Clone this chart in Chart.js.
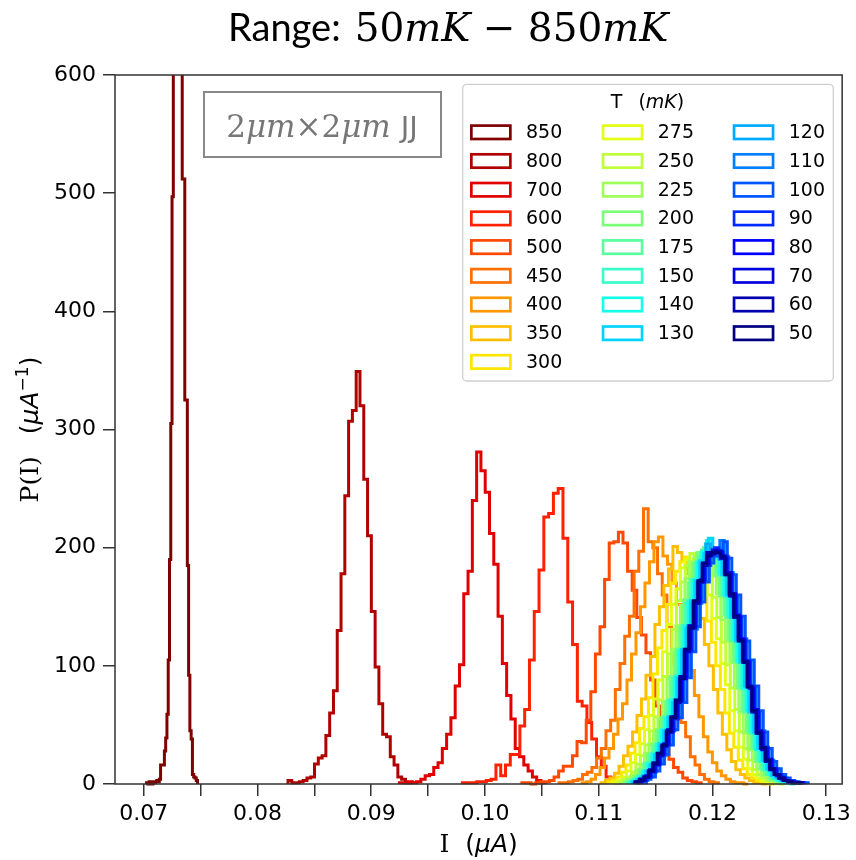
<!DOCTYPE html>
<html><head><meta charset="utf-8">
<script src="https://cdn.jsdelivr.net/npm/chart.js@4.4.1/dist/chart.umd.min.js"></script>
<style>html,body{margin:0;padding:0;background:#fff}canvas{display:block}</style>
</head><body>
<canvas id="c" width="856" height="860"></canvas>
<script>
// ---------- data ----------
const temps = [850,800,700,600,500,450,400,350,300,275,250,225,200,175,150,140,130,120,110,100,90,80,70,60,50];
const colors = ['#800000','#b00000','#e00000','#ff2100','#ff4800','#ff7000','#ff9700','#ffbe00','#ffe600',
  '#e2ff15','#c0ff37','#9eff59','#7bff7b','#59ff9e','#37ffc8','#15ffea','#00d4ff','#00aaff','#0080ff',
  '#0055ff','#002aff','#0000ff','#0000e0','#0000b0','#000080'];
// first bin edge (µA) and bin width (µA) for each temperature
const binStart = [0.070254,0.082687,0.092482,0.098018,0.103246,0.106518,0.108535,0.110202,0.110816,0.111254,
  0.111693,0.112044,0.112307,0.112482,0.112658,0.112746,0.112921,0.113096,0.113535,0.113798,0.113447,0.113360,
  0.113272,0.113184,0.113184];
const binWidth = [0.000112,0.000333,0.000377,0.000421,0.000404,0.000412,0.000395,0.000395,0.000395,0.000395,
  0.000395,0.000395,0.000395,0.000395,0.000395,0.000395,0.000395,0.000395,0.000395,0.000395,0.000395,0.000395,
  0.000395,0.000395,0.000395];
const counts850 = [1,0,2,1,0,2,1,2,3,2,4,16,16,16,28,39,59,105,190,305,497,720,900,1050,1100,1000,850,700,512,512,325,325,185,92,45,38,8,6,5,3];
const counts800 = [3,1,1,2,3,5,6,17,22,24,41,60,79,130,178,244,307,316,349,320,258,210,146,99,68,42,40,23,16,6,4,1,1];
const counts700 = [1,1,2,1,2,4,7,8,14,18,30,42,56,83,101,161,180,240,281,265,247,212,186,142,102,75,55,30,23,16,11,6,3,1];
const counts600 = [1,1,1,2,2,3,4,16,7,16,25,25,49,63,105,146,181,226,229,246,250,208,154,118,70,66,52,38,23,15,6,2,1];
const counts500 = [1,1,0,1,2,2,3,6,11,15,15,24,36,35,54,78,110,133,173,204,205,213,204,180,164,141,126,111,88,66,45,30,21,14,10,5,3,2,1];
const counts450 = [1,1,2,3,4,8,10,14,22,30,45,54,80,102,125,142,180,197,233,205,200,178,160,133,102,80,52,40,23,16,8,4,2,1];
const counts400 = [1,2,4,8,14,22,30,42,55,68,88,110,128,150,170,188,205,209,193,186,170,152,135,114,96,75,57,40,27,18,11,7,4,2,1,1,0];
const counts350 = [1,3,5,9,15,24,32,44,58,72,92,108,135,150,168,182,201,196,190,178,172,155,140,118,100,80,60,42,29,19,12,8,5,3,1,1,0];
const counts300 = [2,3,6,10,16,26,35,47,57,73,93,115,130,152,170,180,188,192,186,190,175,158,138,120,100,80,60,43,31,20,13,8,5,3,2,1,0];
const counts275 = [1,3,6,11,18,25,34,46,58,72,88,112,135,152,165,183,190,186,189,182,174,160,140,123,102,84,62,45,31,21,13,8,5,3,2,1,1];
const counts250 = [2,4,6,10,17,24,33,45,57,71,91,110,131,155,171,185,195,190,194,187,176,158,141,120,101,81,63,44,30,20,12,8,5,3,2,1,0];
const counts225 = [1,4,7,11,16,26,34,44,55,70,89,114,134,151,174,188,192,196,191,189,177,161,139,121,103,83,61,43,29,21,13,7,5,3,2,1,1];
const counts200 = [2,3,6,12,17,24,33,46,56,69,91,112,132,156,170,186,196,198,193,190,176,159,143,123,103,81,62,45,30,19,13,8,4,3,2,1,1];
const counts175 = [1,4,6,11,18,25,32,45,57,71,90,114,134,153,173,187,193,200,196,191,179,160,141,121,105,83,61,44,31,20,12,8,5,3,1,1,1];
const counts150 = [2,4,7,10,17,26,34,44,56,70,89,112,133,155,171,188,196,203,195,193,177,161,143,122,103,82,63,43,30,21,13,8,5,3,2,1,0];
const counts140 = [1,3,6,11,17,25,33,46,55,71,91,113,134,153,173,187,197,206,199,191,179,159,142,123,104,81,62,45,29,19,12,8,5,3,2,1,1];
const counts130 = [2,4,6,11,16,25,34,45,57,69,90,114,132,155,172,189,195,208,196,192,177,160,141,121,103,83,61,44,30,20,13,7,5,3,2,1,1];
const counts120 = [1,4,7,10,17,26,32,44,56,71,89,112,134,154,171,186,203,197,198,190,178,161,143,122,104,82,63,43,31,20,12,8,5,3,2,1,1];
const counts110 = [2,3,6,11,18,24,34,45,57,70,92,113,131,153,172,185,196,199,206,192,179,159,141,123,103,82,61,45,30,20,13,8,5,3,2,1,1];
const counts100 = [1,4,6,11,17,25,33,46,56,69,90,112,133,154,171,187,193,198,205,191,177,160,142,121,105,83,62,44,30,19,13,8,5,3,2,1,1];
const counts90  = [2,4,6,10,17,26,33,45,55,71,91,113,134,155,173,185,194,200,196,193,178,159,141,122,103,82,61,44,31,20,12,8,4,3,2,1,1];
const counts80  = [1,3,7,11,16,25,34,44,57,70,89,114,132,153,171,187,195,197,197,191,179,161,142,121,104,81,63,43,30,21,13,7,5,3,2,1,1];
const counts70  = [2,4,6,12,17,24,33,46,56,70,90,112,133,154,172,186,194,198,196,192,177,160,143,123,103,82,62,45,29,20,13,8,5,3,2,1,1];
const counts60  = [1,4,6,11,18,25,32,45,57,69,91,113,134,153,171,185,196,195,197,191,178,159,141,122,104,83,61,44,30,19,12,8,5,3,2,1,1];
const counts50  = [2,3,6,11,17,26,33,44,56,71,89,114,132,155,172,187,193,196,196,193,177,161,142,121,103,82,62,43,31,20,13,8,5,3,2,1,1];
const allCounts = [counts850,counts800,counts700,counts600,counts500,counts450,counts400,counts350,counts300,counts275,
  counts250,counts225,counts200,counts175,counts150,counts140,counts130,counts120,counts110,counts100,counts90,
  counts80,counts70,counts60,counts50];

const xTickValues = [0.07,0.075,0.08,0.085,0.09,0.095,0.10,0.105,0.11,0.115,0.12,0.125,0.13];
const xTickLabels = ['0.07','','0.08','','0.09','','0.10','','0.11','','0.12','','0.13'];
const yTickValues = [0,100,200,300,400,500,600];
const yTickLabels = ['0','100','200','300','400','500','600'];
const xMin = 0.06748, xMax = 0.13140, yMin = 0, yMax = 600;

// ---------- build step-histogram datasets ----------
function histPoints(start, width, counts) {
  const pts = [{x: start, y: 0}];
  counts.forEach((c, i) => pts.push({x: start + i * width, y: c}));
  pts.push({x: start + counts.length * width, y: 0});
  return pts;
}
const datasets = temps.map((t, i) => ({
  label: String(t),
  data: histPoints(binStart[i], binWidth[i], allCounts[i]),
  borderColor: colors[i],
  backgroundColor: 'transparent',
  fill: false,
  stepped: 'before',
  borderWidth: 3,
  pointRadius: 0,
  order: -i,
  clip: {left: 2, right: 2, top: 0, bottom: 2}
}));

// ---------- text helpers ----------
function drawRuns(ctx, runs, x, y, align) {
  let w = 0;
  runs.forEach(r => { if (r.gap !== undefined) { r.w = r.gap; } else { ctx.font = r.f; r.w = ctx.measureText(r.t).width; } w += r.w; });
  let cx = align === 'center' ? x - w / 2 : x;
  runs.forEach(r => {
    if (r.gap === undefined) {
      ctx.font = r.f; ctx.fillStyle = r.c || '#000';
      ctx.fillText(r.t, cx, y + (r.dy || 0));
    }
    cx += r.w;
  });
  return w;
}

const framePlugin = {
  id: 'frame',
  afterDatasetsDraw(chart) {
    const {ctx, chartArea: a} = chart;
    ctx.save();
    ctx.strokeStyle = '#333'; ctx.lineWidth = 1.5;
    ctx.strokeRect(a.left, a.top, a.right - a.left, a.bottom - a.top);
    ctx.restore();
  }
};

const textPlugin = {
  id: 'texts',
  afterDraw(chart) {
    const {ctx, chartArea: a} = chart;
    ctx.save();
    ctx.textBaseline = 'alphabetic';
    // title
    drawRuns(ctx, [
      {t: 'Range:', f: '38px Lato'}, {gap: 14},
      {t: '50', f: '39px "DejaVu Serif"'}, {t: 'mK', f: 'italic 39px "DejaVu Serif"'},
      {t: ' − ', f: '39px "DejaVu Serif"'},
      {t: '850', f: '39px "DejaVu Serif"'}, {t: 'mK', f: 'italic 39px "DejaVu Serif"'}
    ], 228, 41, 'left');
    // x label
    drawRuns(ctx, [
      {t: 'I', f: '25px "DejaVu Serif"'}, {gap: 16},
      {t: '(', f: '25px "DejaVu Sans"'}, {t: 'μA', f: 'italic 25px "DejaVu Sans"'}, {t: ')', f: '25px "DejaVu Sans"'}
    ], (a.left + a.right) / 2, 852, 'center');
    // y label (rotated)
    ctx.save();
    ctx.translate(38, (a.top + a.bottom) / 2);
    ctx.rotate(-Math.PI / 2);
    drawRuns(ctx, [
      {t: 'P(I)', f: '25px "DejaVu Serif"'}, {gap: 22},
      {t: '(', f: '25px "DejaVu Sans"'}, {t: 'μA', f: 'italic 25px "DejaVu Sans"'},
      {t: '−1', f: '17px "DejaVu Sans"', dy: -10}, {t: ')', f: '25px "DejaVu Sans"'}
    ], 0, 0, 'center');
    ctx.restore();
    // annotation box
    ctx.strokeStyle = '#888'; ctx.lineWidth = 2;
    ctx.strokeRect(204, 92, 237, 65);
    drawRuns(ctx, [
      {t: '2', f: '31px "DejaVu Serif"', c: '#777'}, {t: 'μm', f: 'italic 31px "DejaVu Serif"', c: '#777'},
      {t: '×', f: '31px "DejaVu Serif"', c: '#777'},
      {t: '2', f: '31px "DejaVu Serif"', c: '#777'}, {t: 'μm', f: 'italic 31px "DejaVu Serif"', c: '#777'},
      {gap: 10}, {t: 'JJ', f: '29px "DejaVu Sans"', c: '#777'}
    ], 322, 137, 'center');
    // legend
    const lx = 462.7, ly = 84.3, lw = 370.6, lh = 296.7;
    ctx.beginPath();
    ctx.roundRect(lx, ly, lw, lh, 4);
    ctx.fillStyle = 'rgba(255,255,255,0.85)'; ctx.fill();
    ctx.strokeStyle = '#d0d0d0'; ctx.lineWidth = 1.3; ctx.stroke();
    ctx.textBaseline = 'middle';
    drawRuns(ctx, [
      {t: 'T', f: '19px "DejaVu Sans"'}, {gap: 16},
      {t: '(', f: '19px "DejaVu Sans"'}, {t: 'mK', f: 'italic 19px "DejaVu Sans"'}, {t: ')', f: '19px "DejaVu Sans"'}
    ], 647.5, 103, 'center');
    const colX = [470, 601.7, 732.7];
    const rowY0 = 132.3, rowDy = 28.7;
    chart.data.datasets.forEach((ds, i) => {
      const col = i < 9 ? 0 : (i < 17 ? 1 : 2);
      const row = i < 9 ? i : (i < 17 ? i - 9 : i - 17);
      const sx = colX[col], sy = rowY0 + row * rowDy;
      ctx.strokeStyle = ds.borderColor; ctx.lineWidth = 2.7;
      ctx.strokeRect(sx + 1.35, sy - 6.7, 39, 13.4);
      ctx.fillStyle = '#000'; ctx.font = '19px "DejaVu Sans"';
      ctx.fillText(ds.label, sx + 56, sy + 1);
    });
    ctx.restore();
  }
};

new Chart(document.getElementById('c').getContext('2d'), {
  type: 'line',
  data: {datasets},
  options: {
    responsive: false, animation: false, devicePixelRatio: 1,
    layout: {padding: {left: 0, right: 12, top: 75, bottom: 0}},
    plugins: {legend: {display: false}, tooltip: {enabled: false}, title: {display: false}},
    elements: {point: {radius: 0}, line: {tension: 0}},
    scales: {
      x: {
        type: 'linear', min: xMin, max: xMax,
        afterBuildTicks: ax => { ax.ticks = xTickValues.map(v => ({value: v})); },
        afterFit: s => { s.height = 76; },
        ticks: {font: {family: 'DejaVu Sans', size: 22}, color: '#000', padding: 5, maxRotation: 0,
          autoSkip: false, callback: (v, i) => xTickLabels[i]},
        grid: {drawOnChartArea: false, drawTicks: true, tickLength: 12, color: '#333', lineWidth: 1.5},
        border: {display: false}
      },
      y: {
        type: 'linear', min: yMin, max: yMax,
        afterBuildTicks: ax => { ax.ticks = yTickValues.map(v => ({value: v})); },
        afterFit: s => { s.width = 115; },
        ticks: {font: {family: 'DejaVu Sans', size: 22}, color: '#000', padding: 7,
          autoSkip: false, callback: (v, i) => yTickLabels[i]},
        grid: {drawOnChartArea: false, drawTicks: true, tickLength: 12, color: '#333', lineWidth: 1.5},
        border: {display: false}
      }
    }
  },
  plugins: [framePlugin, textPlugin]
});
</script>
</body></html>
